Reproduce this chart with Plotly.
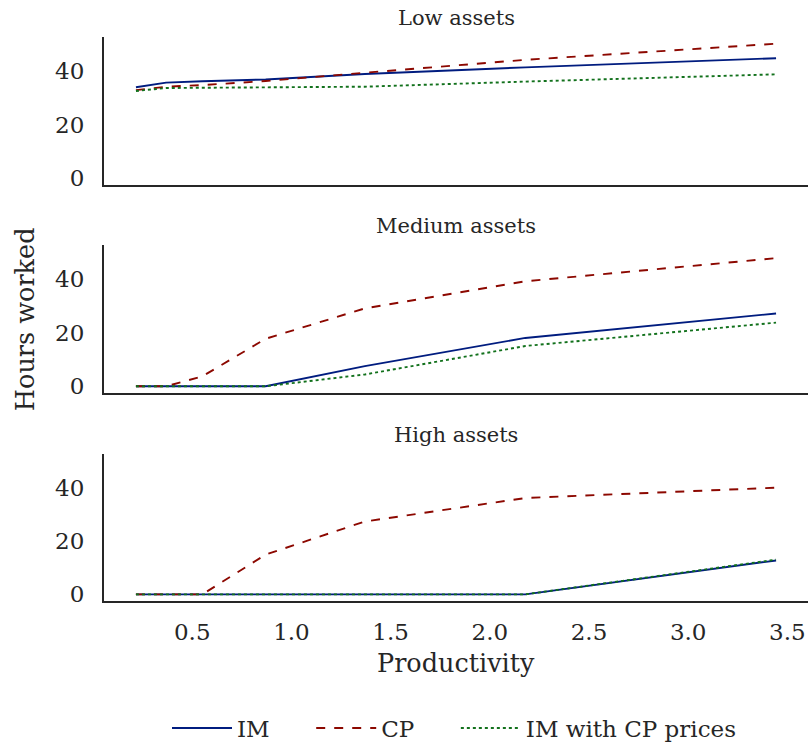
import plotly.graph_objects as go
from plotly.subplots import make_subplots

productivity = [0.216, 0.368, 0.551, 0.870, 1.370, 2.179, 3.443]

panel_titles = ["Low assets", "Medium assets", "High assets"]

im_low = [33.9, 35.6, 36.1, 36.8, 38.8, 41.3, 44.7]
cp_low = [32.8, 34.1, 34.7, 36.2, 39.3, 44.1, 50.1]
imcp_low = [32.5, 33.6, 33.7, 33.9, 34.1, 36.0, 38.7]

im_med = [0.0, 0.0, 0.0, 0.0, 7.5, 18.0, 27.1]
cp_med = [0.0, 0.0, 3.7, 17.7, 29.0, 39.1, 47.7]
imcp_med = [0.0, 0.0, 0.0, 0.0, 4.4, 15.0, 23.7]

im_high = [0.0, 0.0, 0.0, 0.0, 0.0, 0.0, 12.7]
cp_high = [0.0, 0.0, 0.0, 14.9, 27.3, 36.1, 40.0]
imcp_high = [0.0, 0.0, 0.0, 0.2, 0.1, 0.0, 13.0]

series_names = ["IM", "CP", "IM with CP prices"]
y_ticks = [0, 20, 40]
x_ticks = [0.5, 1.0, 1.5, 2.0, 2.5, 3.0, 3.5]

colors = ["#001c7f", "#8c0800", "#12711c"]
dashes = ["solid", "dash", "dot"]

panels = [
    (im_low, cp_low, imcp_low),
    (im_med, cp_med, imcp_med),
    (im_high, cp_high, imcp_high),
]

NBSP = "\u00a0"
legend_pad = [5, 5, 0]

fig = make_subplots(rows=3, cols=1, shared_xaxes=True)

for r, data in enumerate(panels, start=1):
    for k, ys in enumerate(data):
        fig.add_trace(
            go.Scatter(
                x=productivity, y=ys, mode="lines",
                name=series_names[k] + NBSP * legend_pad[k],
                line=dict(color=colors[k], width=1.9, dash=dashes[k]),
                showlegend=(r == 1),
            ),
            row=r, col=1,
        )

font_family = "DejaVu Serif"
axis_color = "#262626"
domains = [[0.7376, 1.0], [0.3688, 0.6312], [0.0, 0.2606]]

for r in range(1, 4):
    fig.update_yaxes(
        domain=domains[r - 1], range=[-2.5, 52.6], tickvals=y_ticks,
        showgrid=False, zeroline=False, showline=True, linecolor=axis_color,
        linewidth=2, ticks="outside", ticklen=13, tickcolor="rgba(0,0,0,0)",
        tickfont=dict(family=font_family, size=23, color=axis_color),
        automargin=False,
        row=r, col=1,
    )
    fig.update_xaxes(
        range=[0.055, 3.604], tickvals=x_ticks, ticktext=[f"{v:.1f}" for v in x_ticks],
        showgrid=False, zeroline=False, showline=True, linecolor=axis_color,
        linewidth=2, ticks="outside", ticklen=9, tickcolor="rgba(0,0,0,0)",
        tickfont=dict(family=font_family, size=23, color=axis_color),
        showticklabels=(r == 3), automargin=False,
        row=r, col=1,
    )

annotations = []
yrefs = ["y domain", "y2 domain", "y3 domain"]
xrefs = ["x domain", "x2 domain", "x3 domain"]
for i, t in enumerate(panel_titles):
    annotations.append(dict(
        text=t, x=0.5, y=1.0, xref=xrefs[i], yref=yrefs[i],
        xanchor="center", yanchor="middle", yshift=19, showarrow=False,
        font=dict(family=font_family, size=21, color=axis_color),
    ))
annotations.append(dict(
    text="Hours worked", x=-0.112, y=0.5, xref="paper", yref="paper",
    xanchor="center", yanchor="middle", textangle=-90, showarrow=False,
    font=dict(family=font_family, size=25.5, color=axis_color),
))
annotations.append(dict(
    text="Productivity", x=0.5, y=-0.110, xref="paper", yref="paper",
    xanchor="center", yanchor="middle", showarrow=False,
    font=dict(family=font_family, size=25.5, color=axis_color),
))

fig.update_layout(
    width=809, height=743,
    margin=dict(l=104, r=1, t=37, b=142),
    plot_bgcolor="white", paper_bgcolor="white",
    annotations=annotations,
    legend=dict(
        orientation="h", x=167 / 809, xanchor="left", xref="container",
        y=15 / 743, yanchor="middle", yref="container",
        font=dict(family=font_family, size=23, color=axis_color),
        itemwidth=60,
        bgcolor="rgba(0,0,0,0)",
    ),
)

fig.write_html("out.html", config={"displayModeBar": False},
               post_script="document.body.style.margin='0px';")
